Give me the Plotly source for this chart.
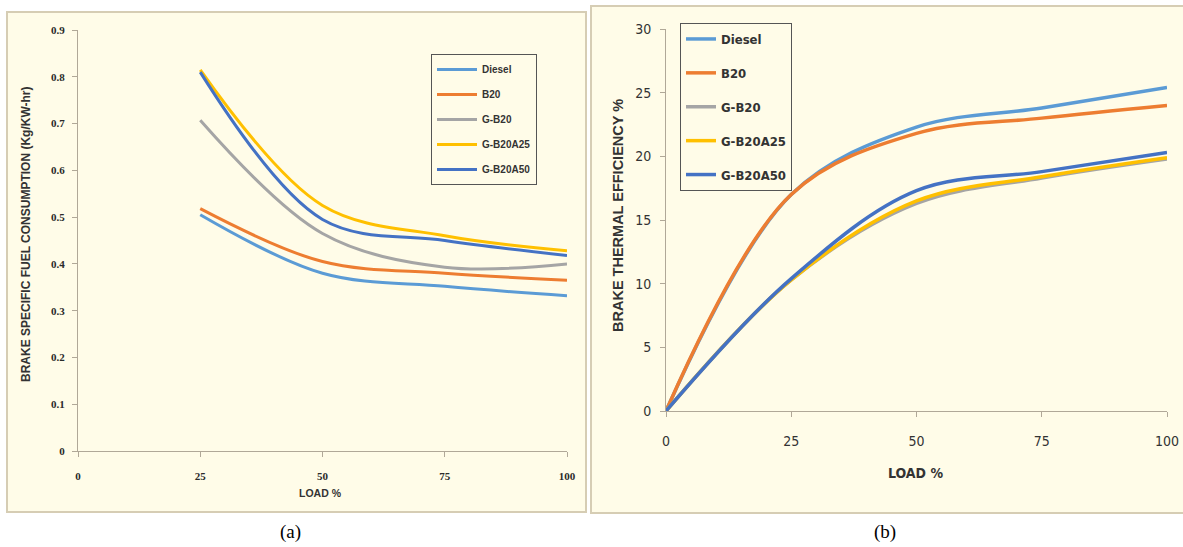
import plotly.graph_objects as go

# ---- data ----
series = ["Diesel", "B20", "G-B20", "G-B20A25", "G-B20A50"]
colors = ["#5B9BD5", "#ED7D31", "#A5A5A5", "#FFC000", "#4472C4"]

load_a = [25, 50, 75, 100]
bsfc = {
    "Diesel":   [0.505, 0.380, 0.352, 0.332],
    "B20":      [0.518, 0.405, 0.380, 0.365],
    "G-B20":    [0.707, 0.465, 0.393, 0.400],
    "G-B20A25": [0.815, 0.525, 0.460, 0.428],
    "G-B20A50": [0.810, 0.495, 0.450, 0.418],
}

load_b = [0, 25, 50, 75, 100]
bte = {
    "Diesel":   [0, 17.0, 22.3, 23.8, 25.4],
    "B20":      [0, 17.0, 21.8, 23.0, 24.0],
    "G-B20":    [0, 10.3, 16.3, 18.3, 19.8],
    "G-B20A25": [0, 10.3, 16.5, 18.4, 19.9],
    "G-B20A50": [0, 10.4, 17.3, 18.8, 20.3],
}

x_ticks = [0, 25, 50, 75, 100]
ya_ticks = [0, 0.1, 0.2, 0.3, 0.4, 0.5, 0.6, 0.7, 0.8, 0.9]
yb_ticks = [0, 5, 10, 15, 20, 25, 30]

# body margin removed via post_script, figure fills the whole window
W, H = 1183, 547
def px(x): return x / W
def py(y): return 1 - y / H

BG = "#FFFCE8"
BORDER = "#D6CDB4"
AX = "#B0A898"

fig = go.Figure()

for i, s in enumerate(series):
    fig.add_trace(go.Scatter(
        x=load_a, y=bsfc[s], name=s, mode="lines",
        line=dict(color=colors[i], width=3, shape="spline", smoothing=1.0),
        xaxis="x", yaxis="y", legend="legend", legendgroup="a" + s,
    ))
for i, s in enumerate(series):
    fig.add_trace(go.Scatter(
        x=load_b, y=bte[s], name=s, mode="lines",
        line=dict(color=colors[i], width=3.5, shape="spline", smoothing=1.0),
        xaxis="x2", yaxis="y2", legend="legend2", legendgroup="b" + s,
    ))

serif = "Liberation Serif, Times New Roman, serif"
narrow = "DejaVu Sans Condensed, Liberation Sans Narrow, Arial Narrow, sans-serif"
sans = "Liberation Sans, Arial, sans-serif"

common_axis = dict(showgrid=False, zeroline=False, showline=True, linecolor=AX,
                   linewidth=1, ticks="outside", ticklen=5, tickcolor=AX,
                   automargin=False, fixedrange=True)

def label(text, x, y, font, angle=0):
    return dict(text=text, x=px(x), y=py(y), xref="paper", yref="paper",
                xanchor="center", yanchor="middle", showarrow=False,
                textangle=angle, font=font)

fig.update_layout(
    template="none",
    width=W, height=H, autosize=False,
    margin=dict(l=0, r=0, t=0, b=0, pad=0),
    paper_bgcolor="white", plot_bgcolor="rgba(0,0,0,0)",
    showlegend=True,
    xaxis=dict(domain=[px(78), px(567)], range=[0, 100], tickvals=x_ticks,
               anchor="y", ticklabelstandoff=10,
               tickfont=dict(family=serif, size=11, color="#2a2a2a", weight="bold"),
               **common_axis),
    yaxis=dict(domain=[py(451), py(30)], range=[0, 0.9], tickvals=ya_ticks,
               ticktext=[("%g" % v) for v in ya_ticks], anchor="x",
               ticklabelstandoff=5,
               tickfont=dict(family=serif, size=11, color="#2a2a2a", weight="bold"),
               **common_axis),
    xaxis2=dict(domain=[px(666), px(1167)], range=[0, 100], tickvals=x_ticks,
                anchor="y2", ticklabelstandoff=12,
                tickfont=dict(family=narrow, size=14, color="#333333"), **common_axis),
    yaxis2=dict(domain=[py(411), py(29)], range=[0, 30], tickvals=yb_ticks,
                anchor="x2", ticklabelstandoff=6,
                tickfont=dict(family=narrow, size=14, color="#333333"), **common_axis),
    legend=dict(x=px(431), y=py(54), xanchor="left", yanchor="top",
                bgcolor=BG, bordercolor="#555555", borderwidth=1,
                font=dict(family=sans, size=10, color="#333333", weight="bold"),
                tracegroupgap=6, itemwidth=40),
    legend2=dict(x=px(680), y=py(23), xanchor="left", yanchor="top",
                 bgcolor=BG, bordercolor="#555555", borderwidth=1,
                 font=dict(family=narrow, size=13, color="#333333", weight="bold"),
                 tracegroupgap=14, itemwidth=30),
    shapes=[
        dict(type="rect", xref="paper", yref="paper", x0=px(7), x1=px(586),
             y0=py(512), y1=py(12), fillcolor=BG, line=dict(color=BORDER, width=2),
             layer="below"),
        dict(type="rect", xref="paper", yref="paper", x0=px(591), x1=px(1190),
             y0=py(513), y1=py(6), fillcolor=BG, line=dict(color=BORDER, width=2),
             layer="below"),
    ],
    annotations=[
        label("<b>BRAKE SPECIFIC FUEL CONSUMPTION (Kg/KW-hr)</b>", 26, 234,
              dict(family=sans, size=12, color="#333333"), -90),
        label("<b>LOAD %</b>", 320, 493, dict(family=sans, size=10.5, color="#333333")),
        label("<b>BRAKE THERMAL EFFICIENCY %</b>", 618, 216,
              dict(family=sans, size=14.5, color="#333333"), -90),
        label("<b>LOAD %</b>", 915, 473, dict(family=narrow, size=14, color="#333333")),
        label("(a)", 290, 532, dict(family=serif, size=19, color="black")),
        label("(b)", 885, 532, dict(family=serif, size=19, color="black")),
    ],
)

fig.write_html("out.html",
               config={"displayModeBar": False},
               post_script="document.body.style.margin='0';document.body.style.overflow='hidden';")
